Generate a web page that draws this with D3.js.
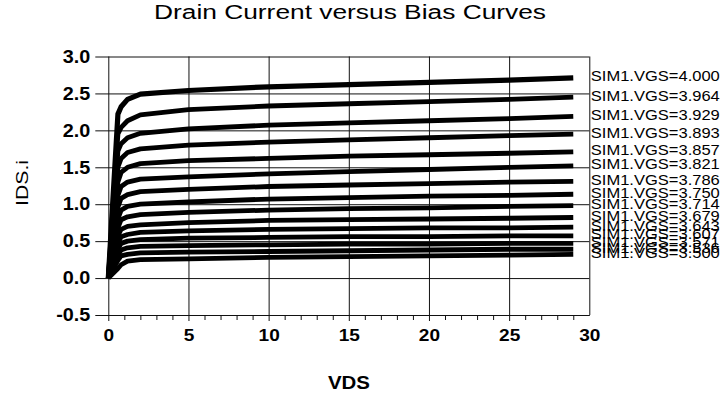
<!DOCTYPE html>
<html>
<head>
<meta charset="utf-8">
<script src="https://cdn.jsdelivr.net/npm/d3@7"></script>
<style>
  html, body { margin: 0; padding: 0; background: #fff; }
  svg { display: block; }
  text { font-family: "Liberation Sans", Arial, sans-serif; fill: #000; }
</style>
</head>
<body>
<svg id="chart" width="721" height="397"></svg>
<script>
// ---------- data ----------
const vgsLabels = ["4.000","3.964","3.929","3.893","3.857","3.821","3.786","3.750",
                   "3.714","3.679","3.643","3.607","3.571","3.536","3.500"];
const vdsPoints = [0, 0.6, 0.8, 1.2, 2, 5, 10, 15, 20, 25, 29];
const idsCurves = [
  [0, 2.22, 2.32, 2.42, 2.49, 2.54, 2.59, 2.62, 2.65, 2.68, 2.71],
  [0, 1.95, 2.04, 2.13, 2.21, 2.28, 2.33, 2.36, 2.39, 2.42, 2.45],
  [0, 1.72, 1.82, 1.90, 1.96, 2.02, 2.07, 2.10, 2.13, 2.16, 2.19],
  [0, 1.50, 1.62, 1.70, 1.75, 1.80, 1.84, 1.87, 1.90, 1.93, 1.95],
  [0, 1.30, 1.43, 1.50, 1.55, 1.59, 1.62, 1.65, 1.67, 1.69, 1.71],
  [0, 1.12, 1.24, 1.30, 1.34, 1.37, 1.41, 1.44, 1.47, 1.50, 1.52],
  [0, 0.96, 1.08, 1.13, 1.17, 1.20, 1.24, 1.26, 1.28, 1.30, 1.31],
  [0, 0.80, 0.92, 0.97, 1.00, 1.03, 1.07, 1.09, 1.11, 1.12, 1.135],
  [0, 0.68, 0.79, 0.83, 0.86, 0.89, 0.92, 0.94, 0.95, 0.97, 0.98],
  [0, 0.57, 0.66, 0.70, 0.72, 0.75, 0.78, 0.79, 0.80, 0.81, 0.82],
  [0, 0.47, 0.56, 0.59, 0.62, 0.64, 0.66, 0.67, 0.68, 0.68, 0.69],
  [0, 0.39, 0.47, 0.50, 0.52, 0.54, 0.55, 0.56, 0.56, 0.57, 0.57],
  [0, 0.31, 0.38, 0.41, 0.43, 0.44, 0.45, 0.46, 0.46, 0.47, 0.47],
  [0, 0.24, 0.30, 0.32, 0.34, 0.35, 0.36, 0.37, 0.38, 0.39, 0.39],
  [0, 0.13, 0.18, 0.23, 0.25, 0.26, 0.28, 0.29, 0.30, 0.31, 0.32]
];
const xTicks = [0, 5, 10, 15, 20, 25, 30];
const xMinorTicks = [1,2,3,4,6,7,8,9,11,12,13,14,16,17,18,19,21,22,23,24,26,27,28,29];
const yTicks = [-0.5, 0.0, 0.5, 1.0, 1.5, 2.0, 2.5, 3.0];
const titleText = "Drain Current versus Bias Curves";
const xTitle = "VDS";
const yTitle = "IDS.i";
const labelPrefix = "SIM1.VGS=";

// ---------- layout ----------
const svg = d3.select("#chart");
const pL = 108.3, pR = 589.3, pT = 56.5, pB = 315;
const x = d3.scaleLinear().domain([0, 30]).range([pL, pR]);
const y = d3.scaleLinear().domain([-0.5, 3]).range([pB, pT]);

function stretch(sel, factor) {
  sel.each(function () {
    const w = this.getComputedTextLength();
    d3.select(this).attr("textLength", w * factor).attr("lengthAdjust", "spacingAndGlyphs");
  });
}
function fitTo(sel, width) {
  sel.attr("textLength", width).attr("lengthAdjust", "spacingAndGlyphs");
}

// Y axis with gridlines
const yAxis = d3.axisLeft(y).tickValues(yTicks).tickFormat((d) => d.toFixed(1))
  .tickSizeInner(-(pR - pL)).tickSizeOuter(0).tickPadding(18);
const gy = svg.append("g").attr("transform", `translate(${pL},0)`).call(yAxis);
gy.select(".domain").remove();
gy.selectAll(".tick line").attr("x1", -13).attr("x2", pR - pL)
  .attr("stroke", "#111").attr("stroke-width", 1);
gy.selectAll(".tick text").attr("font-size", 18).attr("font-weight", "bold")
  .attr("font-family", "Liberation Sans, Arial, sans-serif").attr("fill", "#000");
stretch(gy.selectAll(".tick text"), 1.1);

// X axis with gridlines
const xAxis = d3.axisBottom(x).tickValues(xTicks).tickFormat((d) => String(d))
  .tickSizeInner(6).tickSizeOuter(0).tickPadding(8);
const gx = svg.append("g").attr("transform", `translate(0,${pB})`).call(xAxis);
gx.select(".domain").attr("stroke", "#111");
gx.selectAll(".tick line").attr("y1", (d) => d === 30 ? 0 : 6).attr("y2", -(pB - pT))
  .attr("stroke", "#111").attr("stroke-width", 1);
gx.selectAll(".tick text").attr("font-size", 17).attr("font-weight", "bold")
  .attr("font-family", "Liberation Sans, Arial, sans-serif").attr("fill", "#000");
stretch(gx.selectAll(".tick text"), 1.12);

// Minor ticks
const xMinor = d3.axisBottom(x).tickValues(xMinorTicks).tickFormat("")
  .tickSizeInner(5).tickSizeOuter(0);
const gm = svg.append("g").attr("transform", `translate(0,${pB})`).call(xMinor);
gm.select(".domain").remove();
gm.selectAll(".tick line").attr("stroke", "#111").attr("stroke-width", 1);

// Curves
const line = d3.line().x((d) => x(d[0])).y((d) => y(d[1]));
const curves = idsCurves.map((vals) => vals.map((v, i) => [vdsPoints[i], v]));
svg.append("g").selectAll("path").data(curves).join("path")
  .attr("d", line).attr("fill", "none").attr("stroke", "#000")
  .attr("stroke-width", (d, i) => i === 0 ? 5.2 : 4.8)
  .attr("stroke-linejoin", "round");

// Curve labels
const lbl = svg.append("g").selectAll("text").data(curves).join("text")
  .attr("x", pR + 1.5)
  .attr("y", (d) => y(d[d.length - 1][1]) - 2)
  .attr("dominant-baseline", "central")
  .attr("font-size", 15)
  .text((d, i) => labelPrefix + vgsLabels[i]);
fitTo(lbl, 129);

// Titles
const t = svg.append("text").attr("x", 350).attr("y", 18.5).attr("text-anchor", "middle")
  .attr("font-size", 20).text(titleText);
fitTo(t, 392);

const xt = svg.append("text").attr("x", 349).attr("y", 389).attr("text-anchor", "middle")
  .attr("font-size", 19).attr("font-weight", "bold").text(xTitle);
fitTo(xt, 42);

const yt = svg.append("text").attr("transform", "translate(28,183) rotate(-90)")
  .attr("text-anchor", "middle").attr("font-size", 16.5).text(yTitle);
fitTo(yt, 46);
</script>
</body>
</html>
